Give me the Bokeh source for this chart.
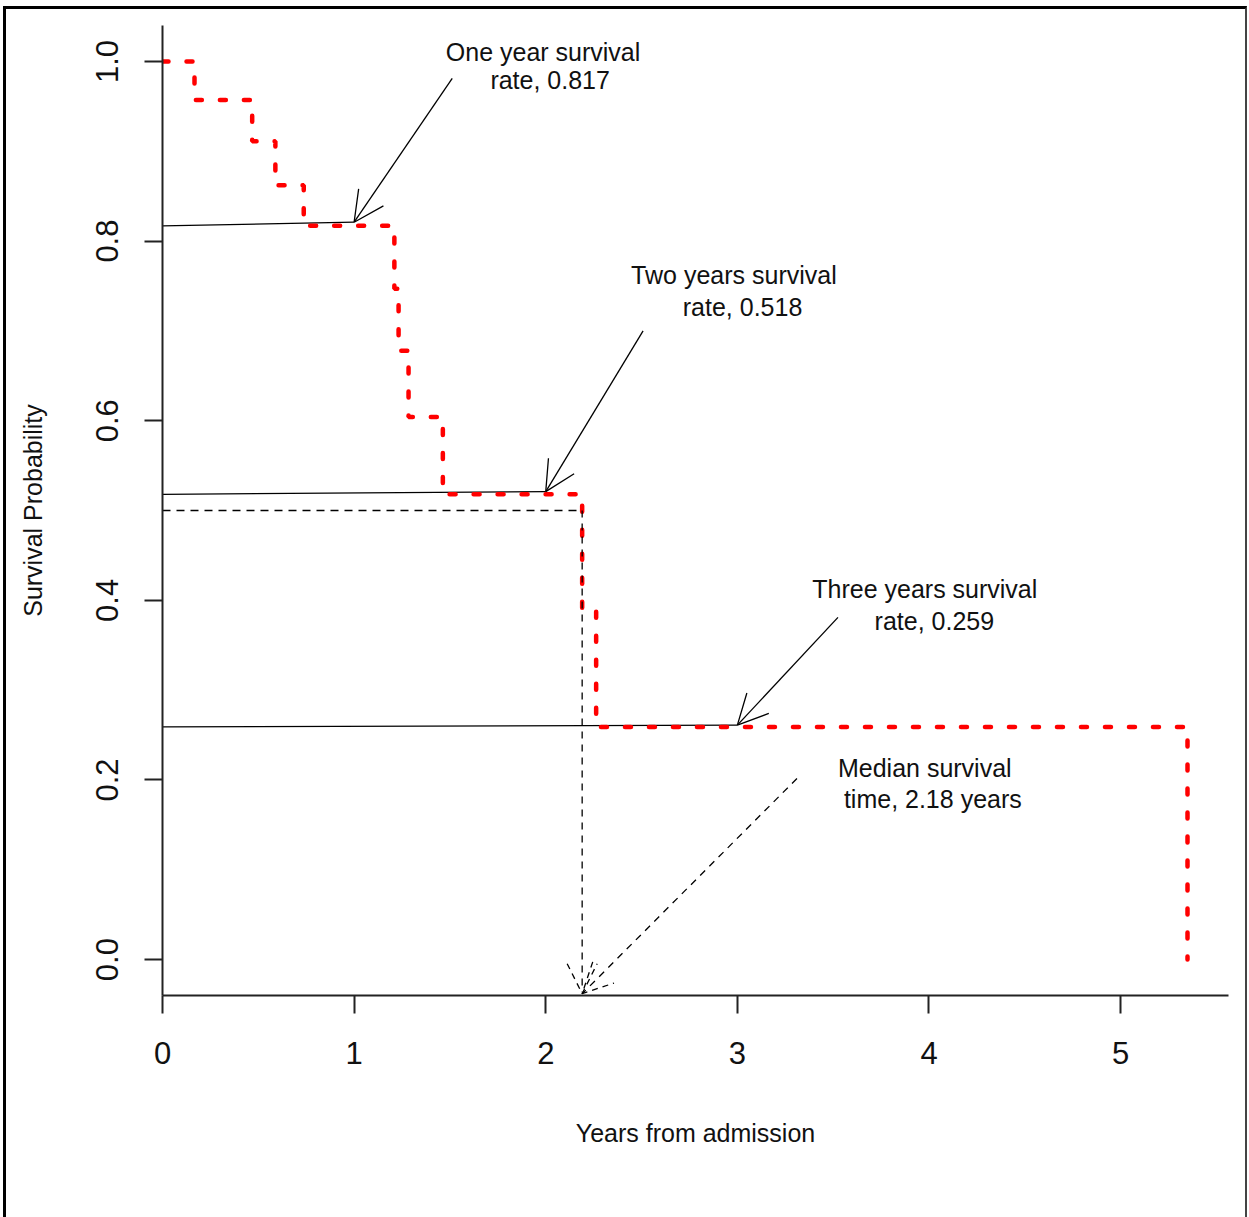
from bokeh.plotting import figure
from bokeh.models import Range1d, FixedTicker, ColumnDataSource, Arrow, OpenHead
from bokeh.core.properties import value
from bokeh.embed import file_html
from bokeh.resources import INLINE

# ---- Kaplan-Meier curve (years, survival probability) ----
km_time = [0.0, 0.167, 0.468, 0.589, 0.737, 1.210, 1.232, 1.284, 1.463, 2.190, 2.263, 5.349]
km_surv = [1.0, 0.957, 0.911, 0.862, 0.817, 0.747, 0.678, 0.604, 0.518, 0.390, 0.259, 0.0]

# ---- survival-rate annotations ----
rate_years = [1.0, 2.0, 3.0]
rate_left_y = [0.817, 0.518, 0.259]
rate_tip_y = [0.821, 0.521, 0.261]
rate_tail_x = [1.512, 2.508, 3.525]
rate_tail_y = [0.981, 0.700, 0.381]

# ---- median survival annotation ----
median_time = 2.19
median_surv = 0.5
median_arrow_end = -0.038
median_tail_x = 3.311
median_tail_y = 0.2016

# ---- text labels ----
label_text = ["One year survival", "rate, 0.817",
              "Two years survival", "rate, 0.518",
              "Three years survival", "rate, 0.259",
              "Median survival", "time, 2.18 years"]
label_x = [1.986, 2.023, 2.982, 3.027, 3.978, 4.028, 3.978, 4.020]
label_y = [1.011, 0.979, 0.762, 0.727, 0.413, 0.377, 0.213, 0.179]

x_ticks = [0, 1, 2, 3, 4, 5]
y_ticks = [0.0, 0.2, 0.4, 0.6, 0.8, 1.0]
y_tick_labels = ["0.0", "0.2", "0.4", "0.6", "0.8", "1.0"]

FONT = "Liberation Sans"

p = figure(frame_width=1066, frame_height=970,
           min_border_left=156, min_border_right=17, min_border_top=16, min_border_bottom=222,
           x_range=Range1d(0, km_time[-1] * 1.04), y_range=Range1d(-0.04, 1.04),
           output_backend="svg", toolbar_location=None)
p.styles = {"border-top": "3px solid black", "border-left": "3px solid black",
            "border-right": "2px solid #444444", "margin-top": "6px", "margin-left": "3px"}
p.grid.visible = False
p.outline_line_color = None
p.background_fill_color = "white"
p.border_fill_color = "white"

for ax in (p.xaxis[0], p.yaxis[0]):
    ax.axis_line_width = 2
    ax.axis_line_color = "#222222"
    ax.major_tick_line_width = 2
    ax.major_tick_line_color = "#222222"
    ax.major_tick_out = 18
    ax.major_tick_in = 0
    ax.minor_tick_line_color = None
    ax.major_label_text_font = FONT
    ax.major_label_text_font_size = "31px"
    ax.major_label_text_color = "#111111"
    ax.axis_label_text_font = FONT
    ax.axis_label_text_font_size = "25px"
    ax.axis_label_text_font_style = "normal"
    ax.axis_label_text_color = "#111111"

p.xaxis.ticker = FixedTicker(ticks=x_ticks)
p.xaxis.major_label_standoff = 28
p.xaxis.axis_label = "Years from admission"
p.xaxis.axis_label_standoff = 52

p.yaxis.ticker = FixedTicker(ticks=y_ticks)
p.yaxis.major_label_overrides = {t: s for t, s in zip(y_ticks, y_tick_labels)}
p.yaxis.major_label_orientation = "parallel"
p.yaxis.major_label_standoff = 26
p.yaxis.axis_label = "Survival Probability"
p.yaxis.axis_label_standoff = 47

# reference lines to the yearly rates
p.segment(x0=[0, 0, 0], y0=rate_left_y, x1=rate_years, y1=rate_tip_y,
          line_color="black", line_width=1.3)

# median dashed horizontal
p.segment(x0=[0], y0=[median_surv], x1=[median_time], y1=[median_surv],
          line_color="black", line_width=1.3, line_dash="8 6")

# KM curve
p.step(km_time, km_surv, mode="after", line_color="#FF0000", line_width=4.5,
       line_dash="6 18", line_cap="round")

# arrows to yearly rates
arr_src = ColumnDataSource(dict(x0=rate_tail_x, y0=rate_tail_y, x1=rate_years, y1=rate_tip_y))
p.add_layout(Arrow(end=OpenHead(size=30, line_width=1.3, line_color="black"),
                   x_start="x0", y_start="y0", x_end="x1", y_end="y1", source=arr_src,
                   line_color="black", line_width=1.3))

# median arrows (dashed)
med_src = ColumnDataSource(dict(x0=[median_time, median_tail_x], y0=[median_surv, median_tail_y],
                                x1=[median_time, median_time], y1=[median_arrow_end, median_arrow_end]))
p.add_layout(Arrow(end=OpenHead(size=30, line_width=1.3, line_color="black", line_dash="6 5"),
                   x_start="x0", y_start="y0", x_end="x1", y_end="y1", source=med_src,
                   line_color="black", line_width=1.3, line_dash="7 6"))

p.text(x=label_x, y=label_y, text=label_text, text_align="center", text_baseline="middle",
       text_font=value(FONT), text_font_size="25px", text_color="#111111")

open("out.html", "w").write(file_html(p, INLINE))
